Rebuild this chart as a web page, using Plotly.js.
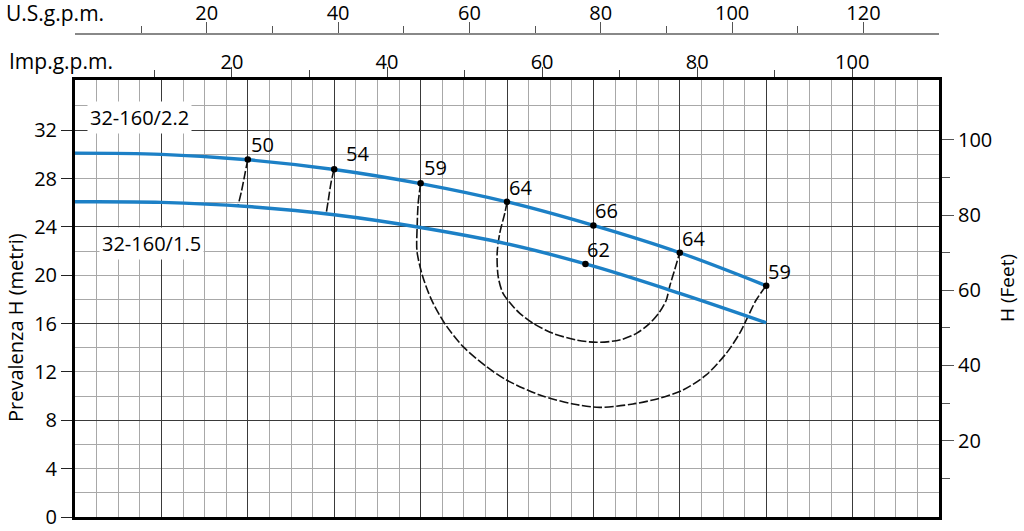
<!DOCTYPE html>
<html><head><meta charset="utf-8">
<script src="https://cdn.plot.ly/plotly-3.0.1.min.js"></script>
<style>html,body{margin:0;padding:0;background:#fff}#chart{width:1024px;height:531px}</style>
</head><body><div id="chart"></div>
<script>
// ---- data (flow in l/min, head in m) ----
const flowQ   = [0, 50, 100, 150, 200, 250, 300, 350, 400];
const head22  = [30.1, 30.0, 29.55, 28.75, 27.58, 26.07, 24.12, 21.86, 19.13];
const head15  = [26.08, 26.03, 25.68, 25.0, 23.95, 22.6, 20.75, 18.5, 16.07];

const eff50Q = [100.0, 98.4, 96.5, 94.2];
const eff50H = [29.59, 28.43, 27.05, 25.67];
const eff54Q = [149.9, 148.1, 146.6, 145.3];
const eff54H = [28.78, 27.6, 26.22, 25.06];
const eff59Q = [200.0, 198.6, 198.0, 197.9, 201.0, 206.2, 214.0, 224.6, 238.2, 249.7, 269.0, 288.2, 303.6, 322.9, 338.3, 351.8, 365.3, 376.9, 384.6, 389.4, 394.2, 400.0];
const eff59H = [27.6, 25.95, 24.01, 22.0, 20.0, 18.0, 16.0, 14.09, 12.43, 11.33, 10.09, 9.35, 9.07, 9.35, 9.82, 10.5, 11.75, 13.54, 15.19, 16.57, 17.95, 19.13];
const eff64Q = [250.1, 248.7, 245.8, 244.3, 244.9, 247.7, 254.5, 257.4, 265.1, 276.6, 290.2, 301.7, 315.2, 324.9, 332.6, 338.4, 342.2, 344.1, 347.0, 349.9];
const eff64H = [26.08, 25.12, 23.47, 21.81, 19.88, 18.5, 17.26, 16.85, 16.02, 15.19, 14.64, 14.45, 14.64, 15.19, 16.02, 16.98, 17.95, 19.05, 20.43, 21.86];

const pointQ     = [100, 150, 200, 250, 300, 350, 400, 295.4];
const pointH     = [29.57, 28.77, 27.6, 26.07, 24.12, 21.86, 19.13, 20.93];
const pointLabel = ['50', '54', '59', '64', '66', '64', '59', '62'];

const curveNames = ['32-160/2.2', '32-160/1.5'];

const usTicks    = [20, 40, 60, 80, 100, 120];
const usMinor    = [10, 30, 50, 70, 90, 110];
const impTicks   = [20, 40, 60, 80, 100];
const impMinor   = [10, 30, 50, 70, 90];
const meterTicks = [0, 4, 8, 12, 16, 20, 24, 28, 32];
const meterMinor = [2, 6, 10, 14, 18, 22, 26, 30, 34];
const meterMajorGrid = [0, 8, 16, 24, 32];
const meterMidGrid   = [4, 12, 20, 28];
const feetTicks  = [20, 40, 60, 80, 100];
const feetMinor  = [10, 30, 50, 70, 90];

// ---- styling / layout ----
const FONT = 'Open Sans, Noto Sans, sans-serif';
const BLUE = '#1c80c6';
const W = 1024, H = 531;
const M = {l: 75, r: 85, t: 33, b: 14};
const plotTopPx = 80;
const paperH = H - M.t - M.b;
const yTop = (H - M.b - plotTopPx) / paperH;
const pxX = px => (px - M.l) / (W - M.l - M.r);
const pxY = py => (H - M.b - py) / paperH;

// label offsets (pixels) for the efficiency labels
const labelDx = [1, 10, 1, 0, 0, 0, 0, 0];
const labelDy = [0, 0, 0, -1, -1, -1, -1, -1];

const dashStyle = {color: '#111', width: 1.6, dash: '9px,2.5px', shape: 'spline', smoothing: 0.8};
const traces = [];
[[eff50Q, eff50H], [eff54Q, eff54H], [eff59Q, eff59H], [eff64Q, eff64H]].forEach(([q, h]) => {
  traces.push({x: q, y: h, mode: 'lines', line: dashStyle, hoverinfo: 'skip', showlegend: false});
});
traces.push({x: flowQ, y: head22, mode: 'lines', line: {color: BLUE, width: 3.4, shape: 'spline'}, showlegend: false, name: curveNames[0]});
traces.push({x: flowQ, y: head15, mode: 'lines', line: {color: BLUE, width: 3.4, shape: 'spline'}, showlegend: false, name: curveNames[1]});
traces.push({x: pointQ, y: pointH, mode: 'markers', marker: {color: '#000', size: 6.5}, showlegend: false});
// helper traces so the extra axes exist
traces.push({x: [], y: [], xaxis: 'x2', yaxis: 'y', showlegend: false});
traces.push({x: [], y: [], xaxis: 'x3', yaxis: 'y', showlegend: false});
traces.push({x: [], y: [], xaxis: 'x', yaxis: 'y2', showlegend: false});
traces.push({x: [], y: [], xaxis: 'x', yaxis: 'y3', showlegend: false});

const annotations = pointLabel.map((t, i) => ({
  x: pointQ[i], y: pointH[i], xref: 'x', yref: 'y', text: t, showarrow: false,
  xanchor: 'left', yanchor: 'bottom', xshift: labelDx[i], yshift: labelDy[i],
  font: {family: FONT, size: 20, color: '#000'}
}));
annotations.push({x: 37.5, y: 33.05, xref: 'x', yref: 'y', text: curveNames[0], showarrow: false,
  xanchor: 'center', yanchor: 'middle', bgcolor: '#fff', borderpad: 2, font: {family: FONT, size: 20, color: '#000'}});
annotations.push({x: 44.4, y: 22.65, xref: 'x', yref: 'y', text: curveNames[1], showarrow: false,
  xanchor: 'center', yanchor: 'middle', bgcolor: '#fff', borderpad: 2, font: {family: FONT, size: 20, color: '#000'}});
annotations.push({x: pxX(4), y: pxY(13), xref: 'paper', yref: 'paper', text: 'U.S.g.p.m.', showarrow: false,
  xanchor: 'left', yanchor: 'middle', font: {family: FONT, size: 21, color: '#000'}});
annotations.push({x: pxX(7), y: pxY(61), xref: 'paper', yref: 'paper', text: 'Imp.g.p.m.', showarrow: false,
  xanchor: 'left', yanchor: 'middle', font: {family: FONT, size: 21, color: '#000'}});
annotations.push({x: pxX(15), y: pxY(328), xref: 'paper', yref: 'paper', text: 'Prevalenza H (metri)', showarrow: false,
  textangle: -90, xanchor: 'center', yanchor: 'middle', font: {family: FONT, size: 20, color: '#000'}});
annotations.push({x: pxX(1007), y: pxY(288), xref: 'paper', yref: 'paper', text: 'H (Feet)', showarrow: false,
  textangle: -90, xanchor: 'center', yanchor: 'middle', font: {family: FONT, size: 19, color: '#000'}});

const tickFont = {family: FONT, size: 20, color: '#000'};
const layout = {
  width: W, height: H, margin: M, paper_bgcolor: '#fff', plot_bgcolor: '#fff',
  showlegend: false, font: {family: FONT},
  xaxis: {range: [0, 500], dtick: 50, showticklabels: false, ticks: '', zeroline: false,
    showgrid: true, gridcolor: '#3a3a3a', gridwidth: 1,
    minor: {dtick: 12.5, showgrid: true, gridcolor: '#a8a8a8', gridwidth: 1, ticks: ''},
    showline: true, linecolor: '#000', linewidth: 3, anchor: 'y'},
  xaxis2: {overlaying: 'x', side: 'top', anchor: 'y', range: [-0.25, 111.2], tickmode: 'array', tickvals: impTicks,
    ticks: 'outside', ticklen: 10, tickwidth: 1, tickcolor: '#444', tickfont: tickFont, showgrid: false, zeroline: false,
    ticklabelstandoff: -10,
    minor: {tickmode: 'array', tickvals: impMinor, ticks: 'outside', ticklen: 7, tickcolor: '#444', showgrid: false},
    showline: true, linecolor: '#000', linewidth: 3},
  xaxis3: {overlaying: 'x', side: 'top', anchor: 'free', position: 1, range: [-0.06, 131.5], tickmode: 'array', tickvals: usTicks,
    ticks: 'outside', ticklen: 11, tickwidth: 1, tickcolor: '#555', tickfont: tickFont, showgrid: false, zeroline: false,
    ticklabelstandoff: -6,
    minor: {tickmode: 'array', tickvals: usMinor, ticks: 'outside', ticklen: 7, tickcolor: '#555', showgrid: false},
    showline: true, linecolor: '#888', linewidth: 1.5},
  yaxis: {domain: [0, yTop], range: [0, 36.15], tickmode: 'array', tickvals: meterTicks, ticks: 'outside', ticklen: 11,
    tickcolor: '#222', tickwidth: 1, tickfont: tickFont, showgrid: false, zeroline: false,
    minor: {tickmode: 'array', tickvals: meterMinor, ticks: '', showgrid: true, gridcolor: '#a8a8a8', gridwidth: 1},
    showline: true, linecolor: '#000', linewidth: 3, anchor: 'x'},
  yaxis2: {overlaying: 'y', side: 'right', anchor: 'x', range: [-0.3, 115.9], tickmode: 'array', tickvals: feetTicks,
    ticks: 'outside', ticklen: 12, tickcolor: '#555', tickwidth: 1, tickfont: tickFont, showgrid: false, zeroline: false,
    minor: {tickmode: 'array', tickvals: feetMinor, ticks: 'outside', ticklen: 8, tickcolor: '#555', showgrid: false},
    showline: true, linecolor: '#000', linewidth: 3},
  yaxis3: {overlaying: 'y', side: 'left', anchor: 'x', range: [0, 36.15], tickmode: 'array', tickvals: meterMajorGrid,
    showticklabels: false, ticks: '', showgrid: true, gridcolor: '#3a3a3a', gridwidth: 1, zeroline: false,
    minor: {tickmode: 'array', tickvals: meterMidGrid, ticks: '', showgrid: true, gridcolor: '#a8a8a8', gridwidth: 1}},
  annotations: annotations
};
Plotly.newPlot('chart', traces, layout, {displayModeBar: false, staticPlot: true});
</script></body></html>
